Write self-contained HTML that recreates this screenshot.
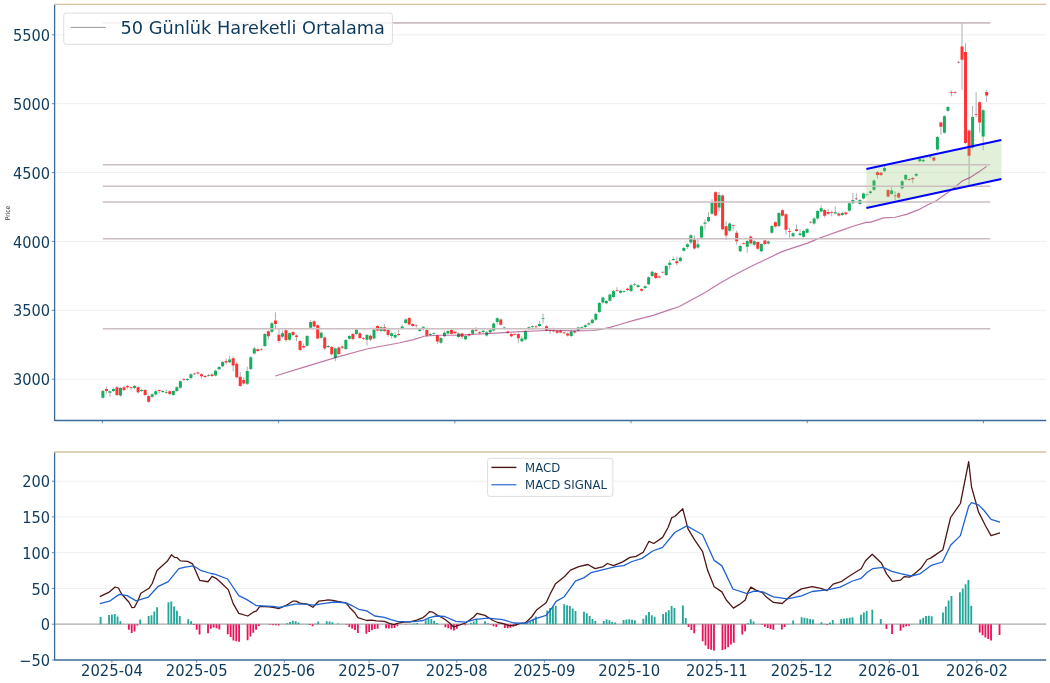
<!DOCTYPE html>
<html><head><meta charset="utf-8"><title>Chart</title><style>html,body{margin:0;padding:0;background:#fff;width:1050px;height:683px;overflow:hidden}svg{display:block;filter:blur(0.35px)}</style></head><body>
<svg width="1050" height="683" viewBox="0 0 1050 683" font-family="DejaVu Sans, Liberation Sans, sans-serif">
<rect width="1050" height="683" fill="#ffffff"/>
<line x1="54.6" y1="34.8" x2="1046.2" y2="34.8" stroke="#ebebeb" stroke-width="0.8"/>
<line x1="54.6" y1="103.68" x2="1046.2" y2="103.68" stroke="#ebebeb" stroke-width="0.8"/>
<line x1="54.6" y1="172.56" x2="1046.2" y2="172.56" stroke="#ebebeb" stroke-width="0.8"/>
<line x1="54.6" y1="241.44" x2="1046.2" y2="241.44" stroke="#ebebeb" stroke-width="0.8"/>
<line x1="54.6" y1="310.32" x2="1046.2" y2="310.32" stroke="#ebebeb" stroke-width="0.8"/>
<line x1="54.6" y1="379.2" x2="1046.2" y2="379.2" stroke="#ebebeb" stroke-width="0.8"/>
<path d="M102.9 389.9V398.7M106.42 386.8V393.6M109.94 390.3V396.8M113.46 387.7V391.9M116.98 386.2V396M120.51 387.1V396.6M124.03 386.2V391M127.55 384.9V389M131.07 387V390.4M134.59 385V389M138.11 386.2V393.6M141.63 389V391.9M145.15 389V396.3M148.67 394.9V402.8M152.19 393.3V397.7M155.72 389.5V395.5M159.24 389.5V393.6M162.76 389.9V393M166.28 389.5V393.7M169.8 390.3V395.4M173.32 390.1V396M176.84 386.2V391.9M180.36 380.3V388.7M183.88 378.2V381M187.4 378V381M190.93 373.3V379.1M194.45 372.7V374.7M197.97 371.5V374.4M201.49 373.3V378.6M205.01 374.9V378M208.53 374V376.6M212.05 373.5V376.9M215.57 369.7V376.4M219.09 366.1V370.2M222.61 361V367.3M226.13 358.6V364.5M229.66 355.9V363.3M233.18 356.3V371.3M236.7 361.8V378.2M240.22 372.2V386.9M243.74 377.2V384.4M247.26 366.8V384.8M250.78 356.3V369.9M254.3 347V354.6M257.82 348.3V351.9M261.35 347.9V350.5M264.87 333.1V347.1M268.39 330.3V339.5M271.91 321.8V332.8M275.43 312.3V328.2M278.95 329V343.1M282.47 330.4V337.8M285.99 329.2V341.8M289.51 332.3V340.7M293.03 331.1V336M296.56 334.4V341.3M300.08 340.1V350.9M303.6 343.6V348.5M307.12 335.1V346.7M310.64 320V328.7M314.16 320.3V327.6M317.68 324.2V339.4M321.2 331.7V338.7M324.72 336.5V350.4M328.24 345V348M331.76 346V355.2M335.29 347.6V361.3M338.81 346.5V355M342.33 345.6V348.7M345.85 339V350M349.37 335.1V339.8M352.89 333.1V340.1M356.41 328.7V334.9M359.93 332.2V338.9M363.45 337.3V339.8M366.98 334V345.4M370.5 334.7V341M374.02 327.3V339.4M377.54 325.1V331.5M381.06 326.3V331.9M384.58 324.1V331.9M388.1 329V336.8M391.62 332.3V338.6M395.14 332.2V338.5M398.66 330V336M402.18 324.5V329.4M405.71 318.5V324M409.23 317V325.5M412.75 323.1V326.9M416.27 324.4V327.7M419.79 328.5V331.9M423.31 326.3V330.4M426.83 329V337.2M430.35 333.1V336M433.87 332.2V334.6M437.39 334.6V344M440.92 337.1V343.7M444.44 330.4V337.3M447.96 330.1V334.6M451.48 329V334.5M455 330.8V334.2M458.52 332.4V338.1M462.04 332.6V339M465.56 334.9V340.2M469.08 333.3V336.4M472.61 329V334.8M476.13 327.2V331.7M479.65 331.2V334.2M483.17 329.7V333.1M486.69 331.2V336.6M490.21 329.1V333.2M493.73 322.4V331.4M497.25 317.3V324.5M500.77 318.5V325.7M504.29 326.4V329.1M507.81 330.6V333.7M511.34 333V337.3M514.86 333.1V335.5M518.38 333V342.7M521.9 336.3V342.3M525.42 330.3V340.5M528.94 326.2V330M532.46 325.3V330M535.98 325.5V328.2M539.5 320.9V326.9M543.02 313.4V323.4M546.55 325.3V331.4M550.07 329V333.6M553.59 329.5V332.2M557.11 330V333.7M560.63 329.8V333.4M564.15 331.6V334.2M567.67 332.5V336.5M571.19 330.4V337.1M574.71 330.2V333.6M578.24 326.5V331.5M581.76 326.3V329.2M585.28 324.3V328M588.8 322.2V325.6M592.32 318.7V324M595.84 312.9V320.7M599.36 302.1V313.1M602.88 296.5V303.4M606.4 300V304.3M609.92 293.5V301.7M613.44 290V297.9M616.97 287.2V291.7M620.49 289.7V293.8M624.01 290V292.8M627.53 287.7V290.9M631.05 284.2V292.1M634.57 283V285.7M638.09 284.3V288M641.61 288V291.7M645.13 285.3V289M648.65 276.3V285.3M652.18 270.7V276.9M655.7 271.9V278.9M659.22 275.4V278.6M662.74 270.9V273.5M666.26 265.1V276M669.78 259.9V269.2M673.3 256.5V261M676.82 256.5V265.5M680.34 256.7V262.1M683.87 247.1V251.7M687.39 243.3V249M690.91 234.2V243.6M694.43 235.5V249.6M697.95 239.7V248.6M701.47 225.2V238.5M704.99 219.5V229.6M708.51 212V222.2M712.03 199V214.7M715.55 191.3V216.4M719.07 192V211.3M722.6 194.5V230.3M726.12 221.3V240M729.64 222.6V231.7M733.16 224.8V230.7M736.68 230.7V244.7M740.2 244.9V252.2M743.72 242.2V244.5M747.24 240V252.7M750.76 235.5V244.5M754.28 240.2V245.7M757.81 241.1V249.8M761.33 243.1V252.2M764.85 239.6V245.1M768.37 240.4V244.5M771.89 225V233.8M775.41 221.2V227.6M778.93 212.1V227M782.45 209.2V216.7M785.97 213.2V234.4M789.5 228V237.6M793.02 232.3V237.2M796.54 224.5V231.9M800.06 229.2V236M803.58 229.9V237.8M807.1 227.9V233.7M810.62 220.9V223.4M814.14 217.4V224.6M817.66 210V219.6M821.18 205.2V212.4M824.7 208.9V217.5M828.23 209V214.7M831.75 210.4V216.3M835.27 206.3V214.4M838.79 212.4V216.4M842.31 212V215.9M845.83 211.6V215.2M849.35 202.2V211.7M852.87 192.9V204.2M856.39 193.5V200M859.91 198.9V205M863.44 192.6V199.5M866.96 193.4V196M870.48 190.5V193.9M874 179.4V190.8M877.52 171.2V178.6M881.04 171.8V176.1M884.56 165.8V172M888.08 189.1V197.4M891.6 187.4V194.9M895.12 191.5V200.3M898.65 192.3V198.6M902.17 180.2V189.2M905.69 174.1V180.6M909.21 178.2V180.6M912.73 177.1V183.3M916.25 173V176.7M919.77 157.7V162.3M923.29 157V162.3M926.81 155.4V158M930.33 155.4V158.3M933.86 156.6V161.5M937.38 136.1V150.6M940.9 121.5V134.9M944.42 115.2V133.7M947.94 106.1V111.8M951.46 90.4V96.3M954.98 91.3V93.9M958.5 60.9V63.5M962.02 23V89.9M965.54 43.2V144M969.07 129.5V185.5M972.59 106V148.8M976.11 92.3V117.3M979.63 101.3V132.7M983.15 109.3V150.3M986.67 89.9V102" stroke="#ababab" stroke-width="0.95"/>
<path d="M101.4 390.9h3.0v6.8h-3.0zM108.44 391.3h3.0v1.4h-3.0zM111.96 389h3.0v1.9h-3.0zM119.01 388.1h3.0v7.5h-3.0zM133.09 385.9h3.0v2.1h-3.0zM140.13 390h3.0v0.9h-3.0zM150.69 394.3h3.0v2.5h-3.0zM154.22 391.3h3.0v3.2h-3.0zM161.26 390.9h3.0v1.1h-3.0zM164.78 392h3.0v0.7h-3.0zM171.82 391.1h3.0v3.9h-3.0zM175.34 387.2h3.0v3.7h-3.0zM178.86 381.3h3.0v6.4h-3.0zM185.9 379h3.0v1h-3.0zM189.43 374.3h3.0v3.8h-3.0zM207.03 375h3.0v0.7h-3.0zM214.07 370.7h3.0v4.7h-3.0zM217.59 367.1h3.0v2.1h-3.0zM221.11 362h3.0v4.3h-3.0zM228.16 359.5h3.0v2.8h-3.0zM245.76 371.1h3.0v12.7h-3.0zM249.28 357.3h3.0v11.6h-3.0zM252.8 348.4h3.0v5.2h-3.0zM263.37 334.1h3.0v12h-3.0zM270.41 323.2h3.0v8.6h-3.0zM280.97 333.2h3.0v3.6h-3.0zM288.01 333.3h3.0v6.4h-3.0zM305.62 336.1h3.0v9.6h-3.0zM309.14 322.1h3.0v5.6h-3.0zM319.7 332.7h3.0v5h-3.0zM326.74 346h3.0v1h-3.0zM333.79 348.6h3.0v9.3h-3.0zM344.35 340h3.0v9h-3.0zM347.87 336.1h3.0v2.7h-3.0zM354.91 329.7h3.0v4.2h-3.0zM365.48 335h3.0v4.7h-3.0zM372.52 329.5h3.0v8.9h-3.0zM379.56 327.3h3.0v3.6h-3.0zM390.12 333.3h3.0v2.6h-3.0zM393.64 335h3.0v2.5h-3.0zM400.68 326.6h3.0v1.8h-3.0zM404.21 319.5h3.0v3.5h-3.0zM418.29 329.5h3.0v1.4h-3.0zM421.81 326.8h3.0v0.9h-3.0zM428.85 334.1h3.0v0.9h-3.0zM432.37 333.2h3.0v0.7h-3.0zM439.42 338.1h3.0v4.6h-3.0zM442.94 332.7h3.0v3.6h-3.0zM446.46 331.1h3.0v2.5h-3.0zM457.02 333.4h3.0v3.7h-3.0zM464.06 335.9h3.0v3.3h-3.0zM471.11 330h3.0v3.8h-3.0zM481.67 330.7h3.0v1.3h-3.0zM485.19 332.2h3.0v3.4h-3.0zM488.71 330.1h3.0v2.1h-3.0zM492.23 323.4h3.0v7h-3.0zM495.75 318.3h3.0v3.7h-3.0zM502.79 327.4h3.0v0.7h-3.0zM520.4 338.6h3.0v2.7h-3.0zM523.92 331.3h3.0v8.2h-3.0zM527.44 327.2h3.0v0.9h-3.0zM530.96 326.3h3.0v0.8h-3.0zM538 324.1h3.0v1.8h-3.0zM541.52 318.3h3.0v0.7h-3.0zM569.69 331.4h3.0v4.7h-3.0zM576.74 327.5h3.0v3h-3.0zM580.26 327.3h3.0v0.9h-3.0zM583.78 325.3h3.0v1.7h-3.0zM587.3 323.2h3.0v1.4h-3.0zM590.82 319.7h3.0v3.3h-3.0zM594.34 313.9h3.0v5.8h-3.0zM597.86 303.1h3.0v9h-3.0zM601.38 297.5h3.0v4.9h-3.0zM604.9 301h3.0v2.3h-3.0zM608.42 294.5h3.0v6.2h-3.0zM611.94 291h3.0v5.9h-3.0zM618.99 290.7h3.0v2.1h-3.0zM622.51 291h3.0v0.8h-3.0zM629.55 285.2h3.0v5.9h-3.0zM633.07 284h3.0v0.7h-3.0zM636.59 285.3h3.0v1.7h-3.0zM643.63 286.3h3.0v1.7h-3.0zM647.15 277.3h3.0v7h-3.0zM650.68 271.7h3.0v4.2h-3.0zM664.76 266.1h3.0v8.9h-3.0zM668.28 262.8h3.0v2.2h-3.0zM671.8 259h3.0v1h-3.0zM678.84 257.7h3.0v3.4h-3.0zM682.37 248.1h3.0v2.6h-3.0zM685.89 244.3h3.0v2.7h-3.0zM689.41 235.2h3.0v7.4h-3.0zM696.45 244.3h3.0v3.3h-3.0zM699.97 226.2h3.0v11.3h-3.0zM703.49 222.4h3.0v1.3h-3.0zM707.01 217h3.0v4.2h-3.0zM710.53 203.1h3.0v10.6h-3.0zM717.57 195h3.0v12.5h-3.0zM728.14 223.6h3.0v7.1h-3.0zM738.7 245.9h3.0v5.3h-3.0zM745.74 241h3.0v5.8h-3.0zM752.78 241.2h3.0v3.5h-3.0zM759.83 244.1h3.0v7.1h-3.0zM766.87 241.4h3.0v2.1h-3.0zM770.39 226h3.0v6.8h-3.0zM777.43 213.1h3.0v12.9h-3.0zM791.52 233.3h3.0v2.9h-3.0zM798.56 233.6h3.0v1.4h-3.0zM802.08 230.9h3.0v5.9h-3.0zM805.6 228.9h3.0v3.8h-3.0zM812.64 218.4h3.0v5.2h-3.0zM816.16 211h3.0v7.6h-3.0zM819.68 208.3h3.0v3.1h-3.0zM833.77 212.2h3.0v1.2h-3.0zM840.81 213h3.0v1.9h-3.0zM847.85 203.2h3.0v7.5h-3.0zM851.37 199.9h3.0v3.3h-3.0zM858.41 199.9h3.0v4.1h-3.0zM861.94 193.6h3.0v4.9h-3.0zM865.46 194.4h3.0v0.7h-3.0zM868.98 191.5h3.0v1.4h-3.0zM872.5 180.4h3.0v9.4h-3.0zM883.06 168.1h3.0v2.9h-3.0zM890.1 190.4h3.0v3.5h-3.0zM900.67 181.2h3.0v7h-3.0zM904.19 175.1h3.0v4.5h-3.0zM914.75 174h3.0v1.7h-3.0zM918.27 158.7h3.0v2.6h-3.0zM921.79 159.9h3.0v1.4h-3.0zM925.31 156.4h3.0v0.7h-3.0zM928.83 156.4h3.0v0.9h-3.0zM935.88 137.1h3.0v12.5h-3.0zM942.92 116.2h3.0v16.5h-3.0zM946.44 107.1h3.0v3.7h-3.0zM971.09 117h3.0v30.8h-3.0zM981.65 110.3h3.0v26.1h-3.0z" fill="#14ae5e"/>
<path d="M104.92 389h3.0v2h-3.0zM115.48 387.2h3.0v7.8h-3.0zM122.53 387.2h3.0v2.8h-3.0zM126.05 385.9h3.0v1.3h-3.0zM129.57 387.2h3.0v0.7h-3.0zM136.61 387.2h3.0v5h-3.0zM143.65 390h3.0v5h-3.0zM147.17 395.9h3.0v5.9h-3.0zM157.74 390h3.0v0.9h-3.0zM168.3 391.3h3.0v2.7h-3.0zM182.38 379.2h3.0v0.8h-3.0zM192.95 373.6h3.0v0.7h-3.0zM196.47 372.5h3.0v0.9h-3.0zM199.99 374.3h3.0v2h-3.0zM203.51 375.9h3.0v1.1h-3.0zM210.55 374.5h3.0v1.4h-3.0zM224.63 361.1h3.0v1.4h-3.0zM231.68 358.2h3.0v7.2h-3.0zM235.2 363.8h3.0v13.4h-3.0zM238.72 376.8h3.0v9.1h-3.0zM242.24 380h3.0v3.4h-3.0zM256.32 349.3h3.0v1.6h-3.0zM259.85 348.9h3.0v0.7h-3.0zM266.89 331.3h3.0v5h-3.0zM273.93 320.6h3.0v3.5h-3.0zM277.45 334.8h3.0v6.1h-3.0zM284.49 330.2h3.0v9.8h-3.0zM291.53 332.1h3.0v2.9h-3.0zM295.06 335.4h3.0v1.6h-3.0zM298.58 341.1h3.0v8.9h-3.0zM302.1 346h3.0v1.5h-3.0zM312.66 321.3h3.0v5.3h-3.0zM316.18 325.2h3.0v13.2h-3.0zM323.22 337.5h3.0v11.1h-3.0zM330.26 347h3.0v7.2h-3.0zM337.31 347.5h3.0v6.5h-3.0zM340.83 346.6h3.0v1.1h-3.0zM351.39 334.1h3.0v5h-3.0zM358.43 333.2h3.0v4.7h-3.0zM361.95 338.3h3.0v0.7h-3.0zM369 335.7h3.0v3.8h-3.0zM376.04 326.1h3.0v4.5h-3.0zM383.08 327.3h3.0v3.6h-3.0zM386.6 330h3.0v5h-3.0zM397.16 333.9h3.0v1.1h-3.0zM407.73 318h3.0v6.5h-3.0zM411.25 324.1h3.0v1.8h-3.0zM414.77 325.4h3.0v0.7h-3.0zM425.33 330h3.0v5.4h-3.0zM435.89 335.6h3.0v6h-3.0zM449.98 330h3.0v3.8h-3.0zM453.5 331.8h3.0v1.4h-3.0zM460.54 333.6h3.0v3.2h-3.0zM467.58 334.3h3.0v1.1h-3.0zM474.63 329.8h3.0v0.9h-3.0zM478.15 332.2h3.0v1h-3.0zM499.27 319.5h3.0v5.2h-3.0zM506.31 331.6h3.0v1.1h-3.0zM509.84 334h3.0v2.3h-3.0zM513.36 334.1h3.0v0.7h-3.0zM516.88 334h3.0v4.3h-3.0zM534.48 326.5h3.0v0.7h-3.0zM545.05 326.3h3.0v4.1h-3.0zM548.57 330h3.0v0.7h-3.0zM552.09 330.5h3.0v0.7h-3.0zM555.61 331h3.0v1.7h-3.0zM559.13 330.8h3.0v1.6h-3.0zM562.65 332.6h3.0v0.7h-3.0zM566.17 333.5h3.0v2h-3.0zM573.21 331.2h3.0v1.4h-3.0zM615.47 289.9h3.0v0.8h-3.0zM626.03 288.7h3.0v1.2h-3.0zM640.11 289h3.0v1.7h-3.0zM654.2 272.9h3.0v5h-3.0zM657.72 276.4h3.0v1.2h-3.0zM661.24 271.9h3.0v0.7h-3.0zM675.32 261.3h3.0v2h-3.0zM692.93 239.7h3.0v8.9h-3.0zM714.05 192.3h3.0v23.1h-3.0zM721.1 195.5h3.0v33.8h-3.0zM724.62 226.2h3.0v9.4h-3.0zM731.66 225.2h3.0v0.7h-3.0zM735.18 232.8h3.0v8.4h-3.0zM742.22 243.2h3.0v0.7h-3.0zM749.26 236.5h3.0v7h-3.0zM756.31 242.1h3.0v6.7h-3.0zM763.35 240.6h3.0v3.5h-3.0zM773.91 222.2h3.0v4.4h-3.0zM780.95 210.2h3.0v5.5h-3.0zM784.47 214.2h3.0v15.6h-3.0zM788 231.2h3.0v0.7h-3.0zM795.04 229.2h3.0v1.7h-3.0zM809.12 221.9h3.0v0.7h-3.0zM823.2 209.9h3.0v5.8h-3.0zM826.73 211.9h3.0v1.8h-3.0zM830.25 212h3.0v0.7h-3.0zM837.29 213.4h3.0v2h-3.0zM844.33 212.6h3.0v1.6h-3.0zM854.89 198.5h3.0v0.7h-3.0zM876.02 172.2h3.0v2.9h-3.0zM879.54 172.8h3.0v2.3h-3.0zM886.58 190.1h3.0v6.3h-3.0zM893.62 195.6h3.0v0.7h-3.0zM897.15 193.3h3.0v4.3h-3.0zM907.71 179.2h3.0v0.7h-3.0zM911.23 178.1h3.0v1.1h-3.0zM932.36 157.6h3.0v2.9h-3.0zM939.4 122.5h3.0v4.3h-3.0zM949.96 92.3h3.0v0.7h-3.0zM953.48 92.3h3.0v0.7h-3.0zM957 61.9h3.0v0.7h-3.0zM960.52 46.4h3.0v13.4h-3.0zM964.04 52h3.0v91h-3.0zM967.57 130.5h3.0v25.2h-3.0zM974.61 114.1h3.0v0.7h-3.0zM978.13 102.3h3.0v20.3h-3.0zM985.17 92h3.0v3.5h-3.0z" fill="#ff3333"/>
<polygon points="866.4,169.1 1001.3,139.96 1001.3,178.96 866.4,208.1" fill="#8cc266" fill-opacity="0.25"/>
<polyline points="275.2,376 305.7,366.6 336.2,357.4 366.7,349 400,342.7 413.3,339.6 425.3,336 440,335.3 460,335.1 480,334 500,332.9 520,331.6 540,330.7 552.9,330.3 575.7,330.9 592.9,330.5 600.9,329.4 610,327.4 621.4,324 632.9,320.6 653.2,315.4 666.4,310.9 679.5,306.5 692.7,299.3 705.9,292 719,283.7 732.2,276.2 745.4,269.2 755,264.6 768.2,258.2 781.4,251.9 794.5,247.4 807.7,243.1 816.9,239.1 827.5,235.2 840.6,230.6 853.8,226 867,222.2 870,222.4 883.7,217.9 895.1,217.3 906.6,214.4 918,209.9 929.4,204.1 936.3,200.7 944.3,195 952.3,189.3 959.1,183.6 962.6,180.7 969.4,177.9 978.6,172.1 986.6,166.4" fill="none" stroke="#8a0a5a" stroke-opacity="0.55" stroke-width="1.15"/>
<line x1="102.9" y1="22.9" x2="990.3" y2="22.9" stroke="#cbbdc0" stroke-width="1.6"/>
<line x1="102.9" y1="164.8" x2="990.3" y2="164.8" stroke="#cbbdc0" stroke-width="1.6"/>
<line x1="102.9" y1="186.3" x2="990.3" y2="186.3" stroke="#cbbdc0" stroke-width="1.6"/>
<line x1="102.9" y1="202.0" x2="990.3" y2="202.0" stroke="#cbbdc0" stroke-width="1.6"/>
<line x1="102.9" y1="238.7" x2="990.3" y2="238.7" stroke="#cbbdc0" stroke-width="1.6"/>
<line x1="102.9" y1="328.8" x2="990.3" y2="328.8" stroke="#cbbdc0" stroke-width="1.6"/>
<line x1="866.4" y1="169.1" x2="1001.3" y2="139.96" stroke="#0000ff" stroke-width="2"/>
<line x1="866.4" y1="208.1" x2="1001.3" y2="178.96" stroke="#0000ff" stroke-width="2"/>
<line x1="54.6" y1="4.3" x2="54.6" y2="421.1" stroke="#3a6a9a" stroke-width="1.3"/>
<line x1="54.6" y1="420.5" x2="1046.2" y2="420.5" stroke="#3a6a9a" stroke-width="1.3"/>
<line x1="54.0" y1="4.3" x2="1046.2" y2="4.3" stroke="#d2c39c" stroke-width="1.3"/>
<line x1="51.800000000000004" y1="34.8" x2="54.6" y2="34.8" stroke="#3a6a9a" stroke-width="0.75"/>
<text transform="translate(50.1,40.9) scale(1,1.035)" text-anchor="end" font-size="14.6" fill="#0e3a5c">5500</text>
<line x1="51.800000000000004" y1="103.68" x2="54.6" y2="103.68" stroke="#3a6a9a" stroke-width="0.75"/>
<text transform="translate(50.1,109.78) scale(1,1.035)" text-anchor="end" font-size="14.6" fill="#0e3a5c">5000</text>
<line x1="51.800000000000004" y1="172.56" x2="54.6" y2="172.56" stroke="#3a6a9a" stroke-width="0.75"/>
<text transform="translate(50.1,178.66) scale(1,1.035)" text-anchor="end" font-size="14.6" fill="#0e3a5c">4500</text>
<line x1="51.800000000000004" y1="241.44" x2="54.6" y2="241.44" stroke="#3a6a9a" stroke-width="0.75"/>
<text transform="translate(50.1,247.54) scale(1,1.035)" text-anchor="end" font-size="14.6" fill="#0e3a5c">4000</text>
<line x1="51.800000000000004" y1="310.32" x2="54.6" y2="310.32" stroke="#3a6a9a" stroke-width="0.75"/>
<text transform="translate(50.1,316.42) scale(1,1.035)" text-anchor="end" font-size="14.6" fill="#0e3a5c">3500</text>
<line x1="51.800000000000004" y1="379.2" x2="54.6" y2="379.2" stroke="#3a6a9a" stroke-width="0.75"/>
<text transform="translate(50.1,385.3) scale(1,1.035)" text-anchor="end" font-size="14.6" fill="#0e3a5c">3000</text>
<line x1="102.4" y1="420.5" x2="102.4" y2="423.3" stroke="#3a6a9a" stroke-width="0.75"/>
<line x1="278.6" y1="420.5" x2="278.6" y2="423.3" stroke="#3a6a9a" stroke-width="0.75"/>
<line x1="454.8" y1="420.5" x2="454.8" y2="423.3" stroke="#3a6a9a" stroke-width="0.75"/>
<line x1="631" y1="420.5" x2="631" y2="423.3" stroke="#3a6a9a" stroke-width="0.75"/>
<line x1="807.2" y1="420.5" x2="807.2" y2="423.3" stroke="#3a6a9a" stroke-width="0.75"/>
<line x1="983.4" y1="420.5" x2="983.4" y2="423.3" stroke="#3a6a9a" stroke-width="0.75"/>
<text transform="translate(10,213) rotate(-90) scale(1,1.12)" text-anchor="middle" font-size="5.9" fill="#333">Price</text>
<rect x="63.7" y="13.1" width="328.7" height="31.2" rx="2.5" fill="#ffffff" fill-opacity="0.8" stroke="#dddddd" stroke-width="1"/>
<line x1="70.7" y1="27.4" x2="105.7" y2="27.4" stroke="#999999" stroke-width="1"/>
<text transform="translate(120.5,33.8) scale(1,1.03)" font-size="17.75" fill="#0e3a5c">50 Günlük Hareketli Ortalama</text>
<line x1="54.6" y1="481.2" x2="1046.2" y2="481.2" stroke="#ebebeb" stroke-width="0.8"/>
<line x1="51.800000000000004" y1="481.2" x2="54.6" y2="481.2" stroke="#3a6a9a" stroke-width="0.75"/>
<text transform="translate(50.1,487.3) scale(1,1.035)" text-anchor="end" font-size="14.6" fill="#0e3a5c">200</text>
<line x1="54.6" y1="516.95" x2="1046.2" y2="516.95" stroke="#ebebeb" stroke-width="0.8"/>
<line x1="51.800000000000004" y1="516.95" x2="54.6" y2="516.95" stroke="#3a6a9a" stroke-width="0.75"/>
<text transform="translate(50.1,523.05) scale(1,1.035)" text-anchor="end" font-size="14.6" fill="#0e3a5c">150</text>
<line x1="54.6" y1="552.7" x2="1046.2" y2="552.7" stroke="#ebebeb" stroke-width="0.8"/>
<line x1="51.800000000000004" y1="552.7" x2="54.6" y2="552.7" stroke="#3a6a9a" stroke-width="0.75"/>
<text transform="translate(50.1,558.8) scale(1,1.035)" text-anchor="end" font-size="14.6" fill="#0e3a5c">100</text>
<line x1="54.6" y1="588.45" x2="1046.2" y2="588.45" stroke="#ebebeb" stroke-width="0.8"/>
<line x1="51.800000000000004" y1="588.45" x2="54.6" y2="588.45" stroke="#3a6a9a" stroke-width="0.75"/>
<text transform="translate(50.1,594.55) scale(1,1.035)" text-anchor="end" font-size="14.6" fill="#0e3a5c">50</text>
<line x1="51.800000000000004" y1="624.2" x2="54.6" y2="624.2" stroke="#3a6a9a" stroke-width="0.75"/>
<text transform="translate(50.1,630.3) scale(1,1.035)" text-anchor="end" font-size="14.6" fill="#0e3a5c">0</text>
<line x1="51.800000000000004" y1="659.95" x2="54.6" y2="659.95" stroke="#3a6a9a" stroke-width="0.75"/>
<text transform="translate(50.1,666.05) scale(1,1.035)" text-anchor="end" font-size="14.6" fill="#0e3a5c">−50</text>
<line x1="54.6" y1="624.2" x2="1046.2" y2="624.2" stroke="#aaaaaa" stroke-width="1.2"/>
<path d="M99.67 617.11h1.85V624.2h-1.85zM108.15 614.98h1.85V624.2h-1.85zM110.98 614.38h1.85V624.2h-1.85zM113.8 613.98h1.85V624.2h-1.85zM116.63 616.39h1.85V624.2h-1.85zM119.46 621.34h1.85V624.2h-1.85zM139.24 619.57h1.85V624.2h-1.85zM147.72 616h1.85V624.2h-1.85zM150.55 615.17h1.85V624.2h-1.85zM153.38 611.52h1.85V624.2h-1.85zM156.2 607.25h1.85V624.2h-1.85zM167.51 602.24h1.85V624.2h-1.85zM170.34 601.4h1.85V624.2h-1.85zM173.16 606.62h1.85V624.2h-1.85zM175.99 610.85h1.85V624.2h-1.85zM178.82 615.98h1.85V624.2h-1.85zM187.3 619.29h1.85V624.2h-1.85zM190.13 621.13h1.85V624.2h-1.85zM286.24 623.18h1.85V624.2h-1.85zM289.06 622h1.85V624.2h-1.85zM291.89 620.83h1.85V624.2h-1.85zM294.72 621.3h1.85V624.2h-1.85zM297.54 622.47h1.85V624.2h-1.85zM306.02 623.92h1.85V624.2h-1.85zM314.5 623.87h1.85V624.2h-1.85zM317.33 621.56h1.85V624.2h-1.85zM325.81 621.27h1.85V624.2h-1.85zM328.64 621.58h1.85V624.2h-1.85zM331.47 622.26h1.85V624.2h-1.85zM337.12 623.5h1.85V624.2h-1.85zM410.62 624.05h1.85V624.2h-1.85zM413.44 623.52h1.85V624.2h-1.85zM416.27 622.94h1.85V624.2h-1.85zM424.75 620.29h1.85V624.2h-1.85zM427.58 618.85h1.85V624.2h-1.85zM430.4 619.03h1.85V624.2h-1.85zM433.23 620.84h1.85V624.2h-1.85zM436.06 623.12h1.85V624.2h-1.85zM467.15 623.91h1.85V624.2h-1.85zM469.98 622.66h1.85V624.2h-1.85zM472.81 621.4h1.85V624.2h-1.85zM475.63 619h1.85V624.2h-1.85zM484.11 621.29h1.85V624.2h-1.85zM486.94 623.34h1.85V624.2h-1.85zM523.69 623.87h1.85V624.2h-1.85zM526.51 622.74h1.85V624.2h-1.85zM529.34 621.4h1.85V624.2h-1.85zM532.17 619.36h1.85V624.2h-1.85zM535 616.54h1.85V624.2h-1.85zM546.3 610.58h1.85V624.2h-1.85zM549.13 608.04h1.85V624.2h-1.85zM551.96 606.63h1.85V624.2h-1.85zM554.78 605.72h1.85V624.2h-1.85zM563.26 604.32h1.85V624.2h-1.85zM566.09 605.16h1.85V624.2h-1.85zM568.92 606.06h1.85V624.2h-1.85zM571.74 608.38h1.85V624.2h-1.85zM574.57 611.12h1.85V624.2h-1.85zM583.05 611.82h1.85V624.2h-1.85zM585.88 613.22h1.85V624.2h-1.85zM588.7 615.99h1.85V624.2h-1.85zM591.53 618.95h1.85V624.2h-1.85zM594.36 621.1h1.85V624.2h-1.85zM602.84 620.92h1.85V624.2h-1.85zM605.67 619.5h1.85V624.2h-1.85zM608.49 620.29h1.85V624.2h-1.85zM611.32 621.95h1.85V624.2h-1.85zM614.15 622.44h1.85V624.2h-1.85zM622.63 619.94h1.85V624.2h-1.85zM625.45 619.49h1.85V624.2h-1.85zM628.28 619.14h1.85V624.2h-1.85zM631.11 619.77h1.85V624.2h-1.85zM633.93 620.17h1.85V624.2h-1.85zM642.41 618.64h1.85V624.2h-1.85zM645.24 615.27h1.85V624.2h-1.85zM648.07 611.9h1.85V624.2h-1.85zM650.89 615.17h1.85V624.2h-1.85zM653.72 616.84h1.85V624.2h-1.85zM662.2 614h1.85V624.2h-1.85zM665.03 612.37h1.85V624.2h-1.85zM667.85 610.14h1.85V624.2h-1.85zM670.68 606.03h1.85V624.2h-1.85zM673.51 607.97h1.85V624.2h-1.85zM681.99 605.42h1.85V624.2h-1.85zM684.82 617.94h1.85V624.2h-1.85zM747 623.26h1.85V624.2h-1.85zM749.83 619.22h1.85V624.2h-1.85zM752.66 621.57h1.85V624.2h-1.85zM786.58 623.92h1.85V624.2h-1.85zM792.23 620.58h1.85V624.2h-1.85zM800.71 617.23h1.85V624.2h-1.85zM803.54 617.79h1.85V624.2h-1.85zM806.37 618.35h1.85V624.2h-1.85zM809.19 618.91h1.85V624.2h-1.85zM812.02 619.56h1.85V624.2h-1.85zM820.5 622.3h1.85V624.2h-1.85zM823.33 623.67h1.85V624.2h-1.85zM828.98 622.5h1.85V624.2h-1.85zM831.81 620.06h1.85V624.2h-1.85zM840.29 619.12h1.85V624.2h-1.85zM843.12 618.77h1.85V624.2h-1.85zM845.94 618.14h1.85V624.2h-1.85zM848.77 617.71h1.85V624.2h-1.85zM851.6 617.3h1.85V624.2h-1.85zM860.08 614.66h1.85V624.2h-1.85zM862.9 612.4h1.85V624.2h-1.85zM865.73 611.03h1.85V624.2h-1.85zM871.38 609.71h1.85V624.2h-1.85zM879.86 619.01h1.85V624.2h-1.85zM910.96 623.9h1.85V624.2h-1.85zM919.44 619.44h1.85V624.2h-1.85zM922.27 617.84h1.85V624.2h-1.85zM925.09 615.95h1.85V624.2h-1.85zM927.92 615.84h1.85V624.2h-1.85zM930.75 616.32h1.85V624.2h-1.85zM942.05 612.56h1.85V624.2h-1.85zM944.88 606.56h1.85V624.2h-1.85zM947.71 600.57h1.85V624.2h-1.85zM950.53 596.02h1.85V624.2h-1.85zM959.01 592.3h1.85V624.2h-1.85zM961.84 588.54h1.85V624.2h-1.85zM964.67 584.28h1.85V624.2h-1.85zM967.5 580.02h1.85V624.2h-1.85zM970.32 605.71h1.85V624.2h-1.85z" fill="#26a69a"/>
<path d="M127.94 624.2h1.85V629.72h-1.85zM130.76 624.2h1.85V633.07h-1.85zM133.59 624.2h1.85V631.52h-1.85zM136.42 624.2h1.85V625.56h-1.85zM192.95 624.2h1.85V625h-1.85zM195.78 624.2h1.85V629.71h-1.85zM198.61 624.2h1.85V634.42h-1.85zM207.09 624.2h1.85V633.35h-1.85zM209.91 624.2h1.85V628.75h-1.85zM212.74 624.2h1.85V627.46h-1.85zM215.57 624.2h1.85V628.15h-1.85zM218.39 624.2h1.85V629.51h-1.85zM226.87 624.2h1.85V634.21h-1.85zM229.7 624.2h1.85V636.97h-1.85zM232.53 624.2h1.85V640.56h-1.85zM235.35 624.2h1.85V641.27h-1.85zM238.18 624.2h1.85V641.84h-1.85zM246.66 624.2h1.85V640.13h-1.85zM249.49 624.2h1.85V636.53h-1.85zM252.31 624.2h1.85V632.81h-1.85zM255.14 624.2h1.85V629.85h-1.85zM257.97 624.2h1.85V626.03h-1.85zM269.28 624.2h1.85V624.86h-1.85zM272.1 624.2h1.85V625.22h-1.85zM274.93 624.2h1.85V625.32h-1.85zM277.76 624.2h1.85V625.39h-1.85zM308.85 624.2h1.85V625.06h-1.85zM311.68 624.2h1.85V626.35h-1.85zM345.6 624.2h1.85V624.76h-1.85zM348.43 624.2h1.85V626.94h-1.85zM351.25 624.2h1.85V628.59h-1.85zM354.08 624.2h1.85V630.07h-1.85zM356.91 624.2h1.85V632.88h-1.85zM365.39 624.2h1.85V633.75h-1.85zM368.21 624.2h1.85V632.11h-1.85zM371.04 624.2h1.85V630.25h-1.85zM373.87 624.2h1.85V628.88h-1.85zM376.69 624.2h1.85V628.78h-1.85zM385.17 624.2h1.85V628.3h-1.85zM388 624.2h1.85V628.47h-1.85zM390.83 624.2h1.85V628.3h-1.85zM393.66 624.2h1.85V628h-1.85zM396.48 624.2h1.85V626.28h-1.85zM404.96 624.2h1.85V624.59h-1.85zM407.79 624.2h1.85V624.3h-1.85zM444.54 624.2h1.85V627.26h-1.85zM447.36 624.2h1.85V628.23h-1.85zM450.19 624.2h1.85V629.57h-1.85zM453.02 624.2h1.85V630.6h-1.85zM455.84 624.2h1.85V628.78h-1.85zM464.32 624.2h1.85V625.15h-1.85zM489.77 624.2h1.85V624.87h-1.85zM492.59 624.2h1.85V626.23h-1.85zM495.42 624.2h1.85V627.09h-1.85zM503.9 624.2h1.85V627.88h-1.85zM506.73 624.2h1.85V628.17h-1.85zM509.55 624.2h1.85V627.82h-1.85zM512.38 624.2h1.85V626.81h-1.85zM515.21 624.2h1.85V625.83h-1.85zM687.64 624.2h1.85V627h-1.85zM690.47 624.2h1.85V630.1h-1.85zM693.3 624.2h1.85V633.19h-1.85zM701.78 624.2h1.85V641.25h-1.85zM704.6 624.2h1.85V645.56h-1.85zM707.43 624.2h1.85V648.94h-1.85zM710.26 624.2h1.85V649.74h-1.85zM713.08 624.2h1.85V650.55h-1.85zM721.56 624.2h1.85V650.05h-1.85zM724.39 624.2h1.85V649.32h-1.85zM727.22 624.2h1.85V647.29h-1.85zM730.04 624.2h1.85V644.58h-1.85zM732.87 624.2h1.85V642.77h-1.85zM741.35 624.2h1.85V634.43h-1.85zM744.18 624.2h1.85V631.37h-1.85zM761.14 624.2h1.85V624.83h-1.85zM763.97 624.2h1.85V626.82h-1.85zM766.79 624.2h1.85V628.12h-1.85zM769.62 624.2h1.85V628.96h-1.85zM772.45 624.2h1.85V629.79h-1.85zM780.93 624.2h1.85V629.6h-1.85zM783.75 624.2h1.85V626.94h-1.85zM826.16 624.2h1.85V624.93h-1.85zM882.69 624.2h1.85V624.31h-1.85zM885.52 624.2h1.85V628.95h-1.85zM891.17 624.2h1.85V633.88h-1.85zM899.65 624.2h1.85V630.75h-1.85zM902.48 624.2h1.85V627.38h-1.85zM905.31 624.2h1.85V626.13h-1.85zM908.13 624.2h1.85V625.75h-1.85zM978.8 624.2h1.85V632.41h-1.85zM981.63 624.2h1.85V635.2h-1.85zM984.46 624.2h1.85V637.61h-1.85zM987.28 624.2h1.85V639.03h-1.85zM990.11 624.2h1.85V640.38h-1.85zM998.59 624.2h1.85V635.1h-1.85z" fill="#e8175d"/>
<polyline points="99.8,596.7 108.7,592.4 115.1,587 118.4,588 121.6,594 128.8,602 132,607.7 134.5,607.3 137.7,601.2 140.9,593.2 149,588.3 152.2,583.5 157,570.6 167.5,560.9 171.5,554.8 174.7,557.4 177.2,557.7 180.4,560.9 187.6,561.4 192.5,563.8 199.7,580.3 208,581.75 212.05,576.4 216.05,578.35 221.1,582.7 228.4,589.9 233.2,603.6 238.8,613.3 247.7,616 253.3,612.2 256.5,610.9 259.8,606.4 269.4,606.8 274.3,607.7 279.1,608.5 285.5,605.7 292.8,601.2 296,601.2 300,603.1 307.3,604.1 312.9,607.3 318.9,601.05 325,600.4 328.1,599.9 332.9,600.4 337.7,601.5 345.8,602.8 349.8,607.7 354.6,612.5 357.9,617.6 366.7,620.5 371.5,620.2 376.4,620.9 384.4,621.3 389.3,623.4 394.1,624.6 397.3,623.4 403.8,622.2 410.2,621.8 416.6,620.2 423.1,617.6 426.3,614.9 429.5,611.7 432.8,612.2 437.1,615.05 440,616.5 444.7,619.3 449.5,623 453.5,627 457.6,625.7 465.6,623 473.7,617 477.2,613.3 484.9,615.4 493,620.5 497.8,622.5 504.3,623.8 509.1,625.7 513.9,625.4 520.4,623.4 525.2,623 531.6,617 536.5,610.1 546.1,602.8 550.2,594 555.55,583.65 564.3,576.8 570.5,570.1 578.7,566.6 587.9,564.5 595.1,568.6 603.3,566.6 607.4,563.5 613.5,565.6 622.7,561.9 629.9,557.4 636.1,556.4 643.2,552.3 649,541.3 653.8,543.5 662.6,537.4 668.1,527.5 671.8,517.6 674.7,516.5 682.8,508.8 687.9,528.6 694.5,539.6 702.6,551.6 707.6,570.3 714.2,586.8 721.9,591.9 726.3,600 733.4,608.1 739.5,604.4 745.3,600 747.9,592.4 750.9,587.1 755.8,590.1 762,592.4 766.4,597.1 773.4,602.4 782.2,603.5 791,595.4 801.5,588.9 812.1,586.6 820.8,588.3 827,590.6 833.1,584.1 841.9,581.3 847.2,577.5 855,572.5 861.2,568.7 865.5,560.8 872.2,554.3 881.4,563 886.6,573.9 892.3,581.3 900.7,580.1 904.2,576.6 909.5,577.1 914.8,573.6 920.9,568.3 927.1,559.5 930.6,558.1 935.8,554.6 942.9,549.7 950.6,517.5 960.4,503.5 968.7,461.7 971.5,486.8 978.5,511.9 985.5,525.8 991,535.6 1000,532.8" fill="none" stroke="#4f1616" stroke-width="1.3" stroke-linejoin="round"/>
<polyline points="99.8,603.6 109.5,601.2 119.2,594.4 127.2,595.6 136.1,600.9 148.2,597.2 157.8,586.7 168.3,581.6 178.8,568.7 185.2,567.1 193.3,565.8 200.5,570.3 211,573.5 214.7,574.1 227.6,579 238.8,595.6 246.9,599.6 256.5,605.7 272.7,606.4 279.1,607.3 295.2,604.1 304.9,604.1 314.5,605.2 319.4,604.1 326.4,603.1 334.5,602 345.8,602.8 352.2,605.7 358.7,609.3 366.7,610.9 374.8,616 384.4,617.3 390.9,619.7 397.3,621.3 408.6,621.8 416.6,621.3 423.1,620.5 429.5,617.6 436,616 444.7,616.5 455.9,621.3 465.6,622.2 475.3,619.3 488.2,618.1 502.7,619.7 513.9,623 525.2,623.4 534.9,618.9 546.1,615.4 551,609.3 556.1,601.4 564.3,596.7 575.6,580.9 583.8,577.9 591,572.7 599.2,570.7 607.4,568.6 615.6,566.6 623.8,565.6 632,561.5 642.2,558.4 652.7,551 662.6,547.3 674.7,532.5 686.8,525.9 694.5,530.3 702.6,534.7 714.2,560.4 721.9,565.9 732.9,589 747,593.6 754.1,591.2 762.8,591.9 773.4,596.8 787.5,598.9 801.5,595.9 812.1,591.5 827,589.8 840.2,587.1 852.5,581 861.2,578.3 867.3,572.2 872.6,568.7 883.1,567.3 891.9,571.3 900.7,573.6 911.2,576 920,573.8 931.2,565.4 942.5,562 950.6,545.3 960.4,535.6 968.7,506.3 971.5,502.7 978.5,504.9 984.1,510.5 991,519.4 1000,522.2" fill="none" stroke="#1f63d0" stroke-width="1.3" stroke-linejoin="round"/>
<line x1="54.6" y1="452.0" x2="54.6" y2="660.6" stroke="#3a6a9a" stroke-width="1.3"/>
<line x1="54.6" y1="660.0" x2="1046.2" y2="660.0" stroke="#3a6a9a" stroke-width="1.3"/>
<line x1="54.0" y1="452.0" x2="1046.2" y2="452.0" stroke="#d2c39c" stroke-width="1.3"/>
<line x1="111.9" y1="660.0" x2="111.9" y2="662.8" stroke="#3a6a9a" stroke-width="0.75"/>
<text transform="translate(111.9,676.0) scale(1,1.06)" text-anchor="middle" font-size="14.8" fill="#0e3a5c">2025-04</text>
<line x1="196.7" y1="660.0" x2="196.7" y2="662.8" stroke="#3a6a9a" stroke-width="0.75"/>
<text transform="translate(196.7,676.0) scale(1,1.06)" text-anchor="middle" font-size="14.8" fill="#0e3a5c">2025-05</text>
<line x1="284.33" y1="660.0" x2="284.33" y2="662.8" stroke="#3a6a9a" stroke-width="0.75"/>
<text transform="translate(284.33,676.0) scale(1,1.06)" text-anchor="middle" font-size="14.8" fill="#0e3a5c">2025-06</text>
<line x1="369.14" y1="660.0" x2="369.14" y2="662.8" stroke="#3a6a9a" stroke-width="0.75"/>
<text transform="translate(369.14,676.0) scale(1,1.06)" text-anchor="middle" font-size="14.8" fill="#0e3a5c">2025-07</text>
<line x1="456.77" y1="660.0" x2="456.77" y2="662.8" stroke="#3a6a9a" stroke-width="0.75"/>
<text transform="translate(456.77,676.0) scale(1,1.06)" text-anchor="middle" font-size="14.8" fill="#0e3a5c">2025-08</text>
<line x1="544.4" y1="660.0" x2="544.4" y2="662.8" stroke="#3a6a9a" stroke-width="0.75"/>
<text transform="translate(544.4,676.0) scale(1,1.06)" text-anchor="middle" font-size="14.8" fill="#0e3a5c">2025-09</text>
<line x1="629.2" y1="660.0" x2="629.2" y2="662.8" stroke="#3a6a9a" stroke-width="0.75"/>
<text transform="translate(629.2,676.0) scale(1,1.06)" text-anchor="middle" font-size="14.8" fill="#0e3a5c">2025-10</text>
<line x1="716.84" y1="660.0" x2="716.84" y2="662.8" stroke="#3a6a9a" stroke-width="0.75"/>
<text transform="translate(716.84,676.0) scale(1,1.06)" text-anchor="middle" font-size="14.8" fill="#0e3a5c">2025-11</text>
<line x1="801.64" y1="660.0" x2="801.64" y2="662.8" stroke="#3a6a9a" stroke-width="0.75"/>
<text transform="translate(801.64,676.0) scale(1,1.06)" text-anchor="middle" font-size="14.8" fill="#0e3a5c">2025-12</text>
<line x1="889.27" y1="660.0" x2="889.27" y2="662.8" stroke="#3a6a9a" stroke-width="0.75"/>
<text transform="translate(889.27,676.0) scale(1,1.06)" text-anchor="middle" font-size="14.8" fill="#0e3a5c">2026-01</text>
<line x1="976.9" y1="660.0" x2="976.9" y2="662.8" stroke="#3a6a9a" stroke-width="0.75"/>
<text transform="translate(976.9,676.0) scale(1,1.06)" text-anchor="middle" font-size="14.8" fill="#0e3a5c">2026-02</text>
<rect x="487.6" y="458.3" width="125.3" height="38.1" rx="2.5" fill="#ffffff" fill-opacity="0.8" stroke="#dddddd" stroke-width="1"/>
<line x1="491.4" y1="467.4" x2="516.4" y2="467.4" stroke="#4f1616" stroke-width="1.4"/>
<line x1="491.4" y1="484.7" x2="516.4" y2="484.7" stroke="#4a7fd8" stroke-width="1.4"/>
<text x="525.1" y="471.9" font-size="11.7" fill="#0e3a5c">MACD</text>
<text x="525.1" y="489.2" font-size="11.7" fill="#0e3a5c">MACD SIGNAL</text>
</svg>
</body></html>
